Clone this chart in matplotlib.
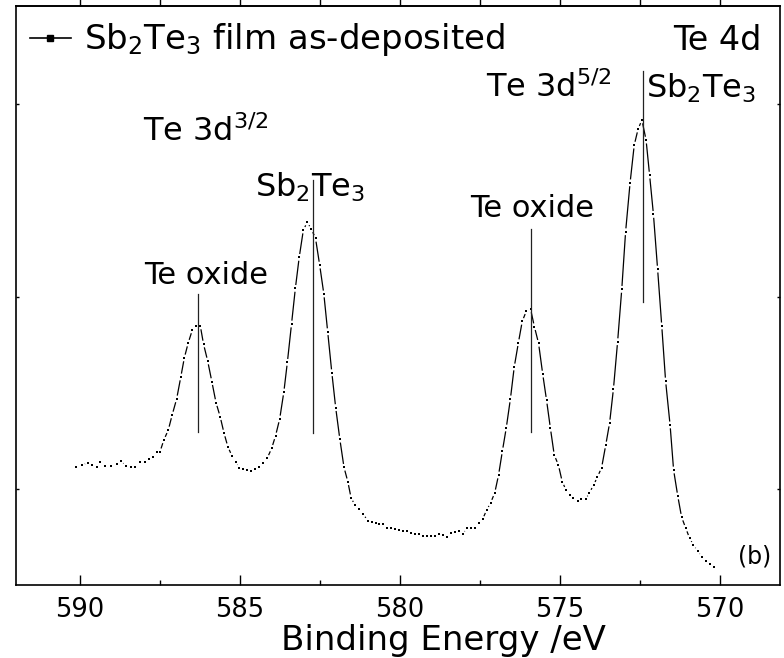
import numpy as np
import matplotlib.pyplot as plt
from matplotlib.collections import LineCollection
from matplotlib.lines import Line2D
from matplotlib.ticker import MultipleLocator

plt.rcParams['font.family'] = ['DejaVu Sans']
plt.rcParams['mathtext.fontset'] = 'dejavusans'

# --- DATOS ---
energia = [590.12, 589.95, 589.74, 589.61, 589.48, 589.38, 589.22, 589.03, 588.85, 588.73,
           588.56, 588.42, 588.28, 588.12, 587.97, 587.83, 587.73, 587.60, 587.50, 587.38,
           587.24, 587.12, 586.98, 586.85, 586.74, 586.62, 586.49, 586.36, 586.24, 586.14,
           586.01, 585.88, 585.75, 585.62, 585.50, 585.38, 585.25, 585.14, 585.02, 584.90,
           584.78, 584.67, 584.53, 584.41, 584.27, 584.15, 584.01, 583.89, 583.76, 583.63,
           583.52, 583.39, 583.27, 583.15, 583.02, 582.90, 582.77, 582.64, 582.51, 582.38,
           582.26, 582.13, 582.01, 581.88, 581.75, 581.63, 581.53, 581.41, 581.28, 581.15,
           581.01, 580.88, 580.76, 580.65, 580.52, 580.40, 580.27, 580.15, 580.02, 579.90,
           579.78, 579.66, 579.53, 579.41, 579.28, 579.16, 579.03, 578.91, 578.78, 578.66,
           578.54, 578.42, 578.29, 578.17, 578.04, 577.92, 577.79, 577.67, 577.54, 577.42,
           577.29, 577.17, 577.04, 576.92, 576.80, 576.68, 576.55, 576.43, 576.30, 576.18,
           576.05, 575.92, 575.80, 575.67, 575.54, 575.42, 575.30, 575.18, 575.05, 574.93,
           574.81, 574.69, 574.58, 574.45, 574.33, 574.20, 574.08, 573.95, 573.83, 573.70,
           573.57, 573.45, 573.33, 573.20, 573.07, 572.95, 572.81, 572.68, 572.56, 572.44,
           572.31, 572.20, 572.08, 571.95, 571.82, 571.70, 571.56, 571.45, 571.32, 571.20,
           571.07, 570.95, 570.83, 570.70, 570.57, 570.44, 570.31, 570.19]

intensidad = [1117, 1126, 1138, 1126, 1117, 1143, 1122, 1122, 1131, 1147,
              1122, 1116, 1118, 1140, 1140, 1157, 1169, 1196, 1195, 1256,
              1308, 1386, 1469, 1583, 1682, 1759, 1827, 1849, 1848, 1754,
              1666, 1559, 1450, 1377, 1292, 1221, 1173, 1143, 1112, 1104,
              1098, 1095, 1105, 1118, 1135, 1161, 1213, 1277, 1365, 1505,
              1659, 1858, 2043, 2204, 2346, 2386, 2351, 2303, 2164, 2014,
              1818, 1605, 1424, 1260, 1114, 1039, 956, 919, 898, 872,
              837, 832, 827, 818, 818, 798, 798, 794, 789, 785,
              785, 772, 766, 766, 759, 759, 759, 759, 766, 763,
              754, 772, 777, 785, 766, 798, 801, 801, 824, 844,
              893, 929, 981, 1074, 1199, 1318, 1469, 1635, 1761, 1872,
              1926, 1936, 1844, 1758, 1598, 1462, 1317, 1178, 1126, 1039,
              996, 970, 953, 939, 948, 948, 982, 1022, 1064, 1112,
              1230, 1344, 1521, 1766, 2038, 2337, 2591, 2787, 2870, 2917,
              2813, 2631, 2427, 2143, 1848, 1562, 1334, 1100, 965, 855,
              798, 746, 711, 680, 650, 628, 611, 595]

# lineas verticales de los picos
pico_x = [586.30, 582.72, 575.92, 572.40]
pico_y0 = [1297, 1294, 1299, 1972]
pico_y1 = [2012, 2605, 2350, 3171]

etiqueta = r'$\mathregular{Sb_2Te_3}$ film as-deposited'

# --- FIGURA ---
fig = plt.figure(figsize=(7.84, 6.58), dpi=100)
ax = fig.add_axes([16/784, 73/658, 764/784, 579/658])
ax.set_xlim(592.0, 568.125)
ax.set_ylim(503, 3509)

# linea con huecos alrededor de cada punto (estilo Origin)
xy = np.column_stack([energia, intensidad])
pts = ax.transData.transform(xy)
d = pts[1:] - pts[:-1]
L = np.hypot(d[:, 0], d[:, 1])
hueco = 3.4
u = d / L[:, None]
p0 = pts[:-1] + u * hueco
p1 = pts[1:] - u * hueco
inv = ax.transData.inverted()
segs = [[inv.transform(a), inv.transform(b)] for a, b, l in zip(p0, p1, L) if l > 2 * hueco]
ax.add_collection(LineCollection(segs, colors='k', linewidths=0.9))
ax.plot(energia, intensidad, 's', ms=1.9, color='k', mew=0)

for xp, y0, y1 in zip(pico_x, pico_y0, pico_y1):
    ax.plot([xp, xp], [y0, y1], color='#222222', lw=0.9)

# textos
ax.text(586.06, 2066, 'Te oxide', fontsize=22, ha='center', va='baseline')
ax.text(586.06, 2808, r'Te 3d$^{\mathregular{3/2}}$', fontsize=23, ha='center', va='baseline')
ax.text(582.81, 2517, r'$\mathregular{Sb_2Te_3}$', fontsize=23, ha='center', va='baseline')
ax.text(575.88, 2415, 'Te oxide', fontsize=22, ha='center', va='baseline')
ax.text(575.36, 3036, r'Te 3d$^{\mathregular{5/2}}$', fontsize=23, ha='center', va='baseline')
ax.text(572.30, 3036, r'$\mathregular{Sb_2Te_3}$', fontsize=23, ha='left', va='baseline')
ax.text(568.69, 3280, 'Te 4d', fontsize=24, ha='right', va='baseline')
ax.text(568.40, 617, '(b)', fontsize=17, ha='right', va='baseline')

h = Line2D([], [], color='k', marker='s', ms=4, lw=1.2)
ax.legend([h], [etiqueta], loc='center left', bbox_to_anchor=(0.0183, 0.9413),
          frameon=False, fontsize=24.5, handlelength=1.2, handletextpad=0.4,
          borderpad=0, borderaxespad=0)

# ejes
ax.xaxis.set_major_locator(MultipleLocator(5))
ax.xaxis.set_minor_locator(MultipleLocator(2.5))
ax.tick_params(axis='x', which='major', direction='in', length=7.5, width=1,
               labelsize=18.5, pad=8.6, top=False)
ax.tick_params(axis='x', which='minor', direction='in', length=3.5, width=1, top=False)
ax.set_yticks([1000, 2000, 3000])
ax.tick_params(axis='y', direction='in', length=2.2, width=1, left=True, right=True,
               labelleft=False)
sec = ax.secondary_xaxis('top')
sec.xaxis.set_major_locator(MultipleLocator(2.5))
sec.tick_params(direction='out', length=6, width=1, labeltop=False)
for s in list(ax.spines.values()) + [sec.spines['top']]:
    s.set_linewidth(1.2)

ax.set_xlabel('Binding Energy /eV', fontsize=24.5)
ax.xaxis.set_label_coords(0.56, (585 - 650) / 579)
ax.xaxis.label.set_va('baseline')

fig.savefig('out.png', dpi=100)
plt.close()
